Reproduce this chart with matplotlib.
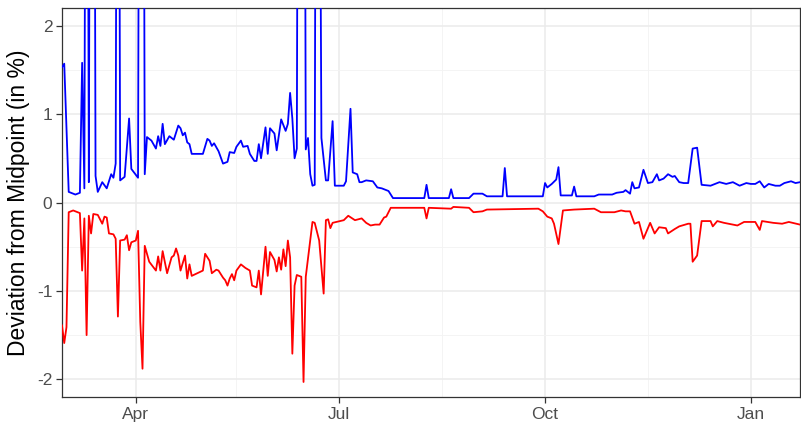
import matplotlib
matplotlib.use("Agg")
import matplotlib.pyplot as plt
import pandas as pd

start_date = "2020-02-28"

blue_days = [0,1,3,6,8,9,10,11,12,13,14,15,16,18,20,22,23,24,25,26,28,30,31,34,35,36,37,38,40,42,43,44,45,46,48,50,
             52,53,54,55,56,57,58,63,65,66,67,68,70,72,74,75,77,78,80,81,83,84,86,87,88,89,91,92,93,95,96,98,100,101,
             102,103,104,105,106,107,108,109,110,111,112,113,114,115,116,118,119,121,122,126,127,129,130,132,133,134,
             136,139,141,143,145,146,148,162,163,164,173,174,175,182,184,188,190,197,198,199,215,216,217,219,221,222,
             223,228,229,230,238,240,246,248,251,252,254,255,256,258,260,262,264,266,267,269,271,273,274,276,278,280,
             282,284,286,290,291,294,297,300,303,306,308,310,312,314,316,319,321,323,326,328,330]
blue_vals = [1.53,1.57,0.12,0.09,0.11,1.58,0.16,10,0.23,10,10,0.3,0.12,0.23,0.16,0.32,0.28,0.44,10,0.25,0.29,0.95,0.38,
             0.28,10,10,0.32,0.74,0.70,0.61,0.75,0.64,0.89,0.66,0.75,0.71,0.87,0.84,0.76,0.79,0.68,0.66,0.55,0.55,0.72,
             0.70,0.64,0.67,0.58,0.44,0.46,0.57,0.56,0.63,0.70,0.63,0.64,0.55,0.47,0.47,0.66,0.50,0.85,0.55,0.84,0.78,
             0.59,0.94,0.81,0.89,1.24,0.95,0.50,0.61,10,10,10,0.60,0.73,0.32,0.19,0.20,10,6,0.73,0.25,0.25,0.92,0.19,
             0.19,0.24,1.06,0.34,0.32,0.23,0.23,0.25,0.24,0.17,0.16,0.14,0.13,0.05,0.05,0.20,0.05,0.05,0.15,0.05,0.05,
             0.10,0.10,0.07,0.07,0.39,0.07,0.07,0.22,0.17,0.21,0.26,0.40,0.08,0.08,0.18,0.07,0.07,0.09,0.09,0.11,0.12,
             0.14,0.10,0.23,0.16,0.17,0.37,0.22,0.23,0.32,0.25,0.27,0.32,0.29,0.30,0.23,0.22,0.22,0.61,0.62,0.20,0.19,
             0.20,0.23,0.21,0.23,0.19,0.22,0.21,0.21,0.24,0.17,0.21,0.19,0.19,0.22,0.24,0.22,0.23]

red_days = [0,1,2,3,5,7,8,9,10,11,12,13,14,16,18,19,20,21,23,24,25,26,28,29,30,31,33,34,35,36,37,39,42,43,44,45,47,49,
            50,51,52,53,55,56,57,58,63,64,66,67,69,70,72,73,74,75,76,77,78,80,82,84,85,87,88,89,91,92,93,95,96,97,98,
            99,100,101,102,103,104,105,107,108,109,112,113,115,117,118,119,120,121,126,128,131,134,136,138,140,142,
            144,145,147,162,163,164,174,175,182,184,188,190,213,215,217,219,220,222,224,229,238,241,247,250,252,254,
            256,258,260,262,263,265,267,270,271,274,276,280,281,282,284,286,290,291,293,296,302,305,310,312,313,318,
            322,325,330]
red_vals = [-1.39,-1.59,-1.41,-0.11,-0.09,-0.11,-0.12,-0.77,-0.18,-1.50,-0.15,-0.35,-0.13,-0.14,-0.24,-0.16,-0.17,-0.35,
            -0.36,-0.41,-1.29,-0.43,-0.42,-0.37,-0.54,-0.45,-0.43,-0.32,-1.35,-1.88,-0.49,-0.67,-0.77,-0.61,-0.77,-0.55,
            -0.80,-0.62,-0.60,-0.52,-0.60,-0.77,-0.60,-0.86,-0.70,-0.83,-0.77,-0.58,-0.66,-0.80,-0.76,-0.77,-0.85,-0.88,
            -0.94,-0.86,-0.81,-0.88,-0.77,-0.70,-0.74,-0.77,-0.94,-0.96,-0.77,-1.04,-0.50,-0.83,-0.56,-0.65,-0.78,-0.62,
            -0.76,-0.53,-0.72,-0.43,-0.62,-1.71,-0.94,-0.82,-0.84,-2.03,-0.84,-0.22,-0.23,-0.43,-1.03,-0.20,-0.19,-0.29,
            -0.23,-0.20,-0.15,-0.20,-0.18,-0.23,-0.26,-0.25,-0.25,-0.17,-0.16,-0.06,-0.06,-0.18,-0.06,-0.07,-0.05,-0.06,
            -0.11,-0.10,-0.08,-0.07,-0.10,-0.16,-0.18,-0.24,-0.47,-0.09,-0.08,-0.07,-0.11,-0.11,-0.09,-0.10,-0.10,-0.24,
            -0.22,-0.41,-0.29,-0.23,-0.35,-0.28,-0.29,-0.35,-0.30,-0.27,-0.24,-0.24,-0.67,-0.60,-0.21,-0.21,-0.27,-0.21,
            -0.23,-0.26,-0.22,-0.22,-0.31,-0.21,-0.23,-0.24,-0.22,-0.25]

y_ticks = [-2, -1, 0, 1, 2]
x_tick_dates = ["2020-04-01", "2020-07-01", "2020-10-01", "2021-01-01"]
x_tick_labels = ["Apr", "Jul", "Oct", "Jan"]
x_minor_dates = ["2020-05-16", "2020-08-16", "2020-11-16"]
y_label = "Deviation from Midpoint (in %)"

base = pd.Timestamp(start_date)
blue_dates = base + pd.to_timedelta(blue_days, unit="D")
red_dates = base + pd.to_timedelta(red_days, unit="D")

plt.rcParams['font.family'] = ['Liberation Sans', 'DejaVu Sans']

fig = plt.figure(figsize=(8.01, 4.24), dpi=100)
W, H = 801, 424
ax = fig.add_axes([62 / W, 1 - 397 / H, (800 - 62) / W, (397 - 8) / H])

ax.plot(blue_dates, blue_vals, color="#0000FF", lw=1.3, zorder=3)
ax.plot(red_dates, red_vals, color="#FF0000", lw=1.3, zorder=3)

ax.set_ylim(-2.2, 2.2)
ax.set_xlim(blue_dates[0], blue_dates[-1])

ax.set_yticks(y_ticks)
ax.set_yticklabels([str(t) for t in y_ticks])
ax.set_yticks([-1.5, -0.5, 0.5, 1.5], minor=True)
ax.set_xticks(pd.to_datetime(x_tick_dates))
ax.set_xticklabels(x_tick_labels)
ax.set_xticks(pd.to_datetime(x_minor_dates), minor=True)

ax.grid(True, which="major", color="#EBEBEB", lw=1.1, zorder=0)
ax.grid(True, which="minor", color="#F3F3F3", lw=0.6, zorder=0)
ax.set_axisbelow(True)

for s in ax.spines.values():
    s.set_color("#333333")
    s.set_linewidth(0.9)

ax.tick_params(which="major", length=4, width=0.9, color="#333333", labelcolor="#4D4D4D",
               labelsize=12.5, pad=3)
ax.tick_params(which="minor", length=0)

ax.set_ylabel(y_label, fontsize=16.5, color="black", labelpad=5)

fig.savefig("out.png", dpi=100, facecolor="white")
